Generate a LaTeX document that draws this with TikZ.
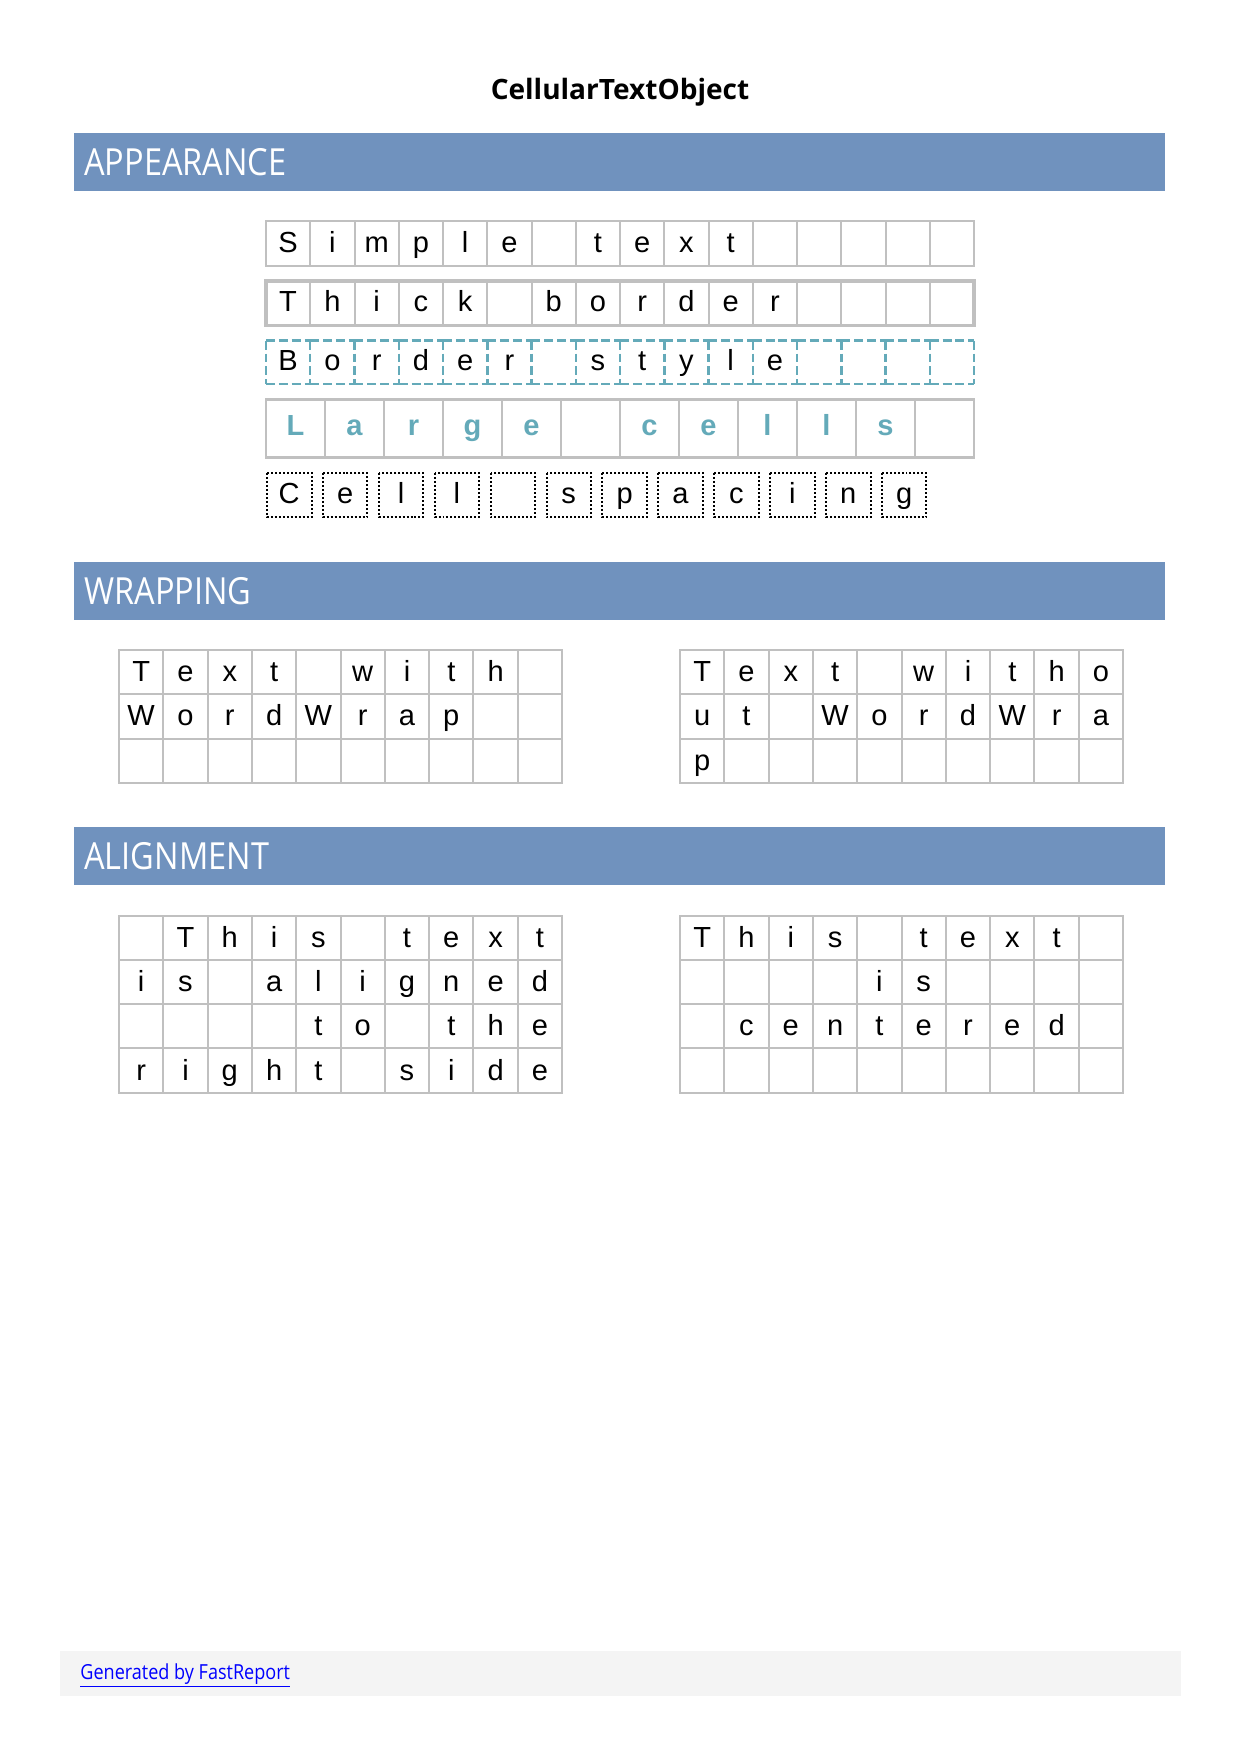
\documentclass[tikz,border=0pt]{standalone}
\usepackage{fontspec}
\setmainfont{Liberation Sans}
\newfontfamily\headfont[FakeStretch=0.87]{Open Sans}
\newfontfamily\titlefont{Open Sans}
\definecolor{bandblue}{RGB}{112,146,190}
\definecolor{cellgray}{RGB}{192,192,192}
\definecolor{cellteal}{RGB}{100,170,185}
\definecolor{footgray}{RGB}{244,244,244}

\begin{document}
\begin{tikzpicture}[x = 0.16935mm, y = -0.16935mm,
    cellline/.style = {draw = cellgray, line width = 0.96pt},
    dashline/.style = {draw = cellteal, line width = 1.2pt, dash pattern = on 4.3pt off 1.9pt},
    dotline/.style = {draw = black, line width = 0.96pt, dash pattern = on 0.96pt off 0.96pt},
    letter/.style = {anchor = base, inner sep = 0pt, font = \fontsize{14}{16}\selectfont},
    band/.style = {fill = bandblue},
    bandtitle/.style = {anchor = base west, inner sep = 0pt, text = white, font = \headfont\fontsize{18}{20}\selectfont}]

    \useasboundingbox (0, 0) rectangle (1240, 1754);

    \node [anchor = base, inner sep = 0pt, font = \titlefont\bfseries\fontsize{13.5}{16}\selectfont] (title) at (620, 99.5) {CellularTextObject};

    % appearance
    \fill [band] (74, 133) rectangle (1165, 191);
    \node [bandtitle] (appearance) at (84, 175.5) {APPEARANCE};

    \foreach \ch [count = \i from 0] in {S,i,m,p,l,e,{},t,e,x,t,{},{},{},{},{}} {
        \draw [cellline] (266+\i*44.25, 221) rectangle ++(44.25, 45);
        \node [letter] (simple-\i) at (288.1+\i*44.25, 252.7) {\ch};
    }

    \foreach \ch [count = \i from 0] in {T,h,i,c,k,{},b,o,r,d,e,r,{},{},{},{}} {
        \draw [cellline] (266+\i*44.25, 281) rectangle ++(44.25, 44.7);
        \node [letter] (thick-\i) at (288.1+\i*44.25, 311.7) {\ch};
    }
    \draw [cellgray, line width = 1.7pt] (266, 281) rectangle (974, 325.7);

    \foreach \ch [count = \i from 0] in {B,o,r,d,e,r,{},s,t,y,l,e,{},{},{},{}} {
        \draw [dashline] (266+\i*44.25, 340.7) -- ++(44.25, 0);
        \draw [dashline] (266+\i*44.25, 384) -- ++(44.25, 0);
        \draw [dashline] (266+\i*44.25, 340.7) -- ++(0, 43.3);
        \node [letter] (style-\i) at (288.1+\i*44.25, 370) {\ch};
    }
    \draw [dashline] (974, 340.7) -- (974, 384);

    \foreach \ch [count = \i from 0] in {L,a,r,g,e,{},c,e,l,l,s,{}} {
        \draw [cellline] (266+\i*59, 399.3) rectangle ++(59, 58);
        \node [letter, text = cellteal, font = \bfseries\fontsize{14}{16}\selectfont] (large-\i) at (295.5+\i*59, 435.7) {\ch};
    }
    \draw [cellgray, line width = 1.4pt] (266, 399.3) rectangle (974, 457.3);

    \foreach \ch [count = \i from 0] in {C,e,l,l,{},s,p,a,c,i,n,g} {
        \draw [dotline] (267+\i*55.9, 473) rectangle ++(44.5, 44);
        \node [letter] (spacing-\i) at (289.2+\i*55.9, 503.3) {\ch};
    }

    % wrapping
    \fill [band] (74, 562) rectangle (1165, 620);
    \node [bandtitle] (wrapping) at (84, 604.5) {WRAPPING};

    \foreach \row [count = \r from 0] in {{T,e,x,t,{},w,i,t,h,{}},{W,o,r,d,W,r,a,p,{},{}},{{},{},{},{},{},{},{},{},{},{}}} {
        \foreach \ch [count = \c from 0] in \row {
            \draw [cellline] (119+\c*44.3, 650+\r*44.25) rectangle ++(44.3, 44.25);
            \node [letter] (wrapon-\r-\c) at (141.2+\c*44.3, 681.7+\r*44.25) {\ch};
        }
    }

    \foreach \row [count = \r from 0] in {{T,e,x,t,{},w,i,t,h,o},{u,t,{},W,o,r,d,W,r,a},{p,{},{},{},{},{},{},{},{},{}}} {
        \foreach \ch [count = \c from 0] in \row {
            \draw [cellline] (680+\c*44.3, 650+\r*44.25) rectangle ++(44.3, 44.25);
            \node [letter] (wrapoff-\r-\c) at (702.2+\c*44.3, 681.7+\r*44.25) {\ch};
        }
    }

    % alignment
    \fill [band] (74, 826.6) rectangle (1165, 884.7);
    \node [bandtitle] (alignment) at (84, 869) {ALIGNMENT};

    \foreach \row [count = \r from 0] in {{{},T,h,i,s,{},t,e,x,t},{i,s,{},a,l,i,g,n,e,d},{{},{},{},{},t,o,{},t,h,e},{r,i,g,h,t,{},s,i,d,e}} {
        \foreach \ch [count = \c from 0] in \row {
            \draw [cellline] (119+\c*44.3, 915.7+\r*44.25) rectangle ++(44.3, 44.25);
            \node [letter] (right-\r-\c) at (141.2+\c*44.3, 947.4+\r*44.25) {\ch};
        }
    }

    \foreach \row [count = \r from 0] in {{T,h,i,s,{},t,e,x,t,{}},{{},{},{},{},i,s,{},{},{},{}},{{},c,e,n,t,e,r,e,d,{}},{{},{},{},{},{},{},{},{},{},{}}} {
        \foreach \ch [count = \c from 0] in \row {
            \draw [cellline] (680+\c*44.3, 915.7+\r*44.25) rectangle ++(44.3, 44.25);
            \node [letter] (center-\r-\c) at (702.2+\c*44.3, 947.4+\r*44.25) {\ch};
        }
    }

    % footer
    \fill [footgray] (60, 1651) rectangle (1181, 1695.7);
    \node [anchor = base west, inner sep = 0pt, text = blue, font = \headfont\fontsize{10}{12}\selectfont] (footer) at (80, 1679) {\underline{Generated by FastReport}};
\end{tikzpicture}
\end{document}
